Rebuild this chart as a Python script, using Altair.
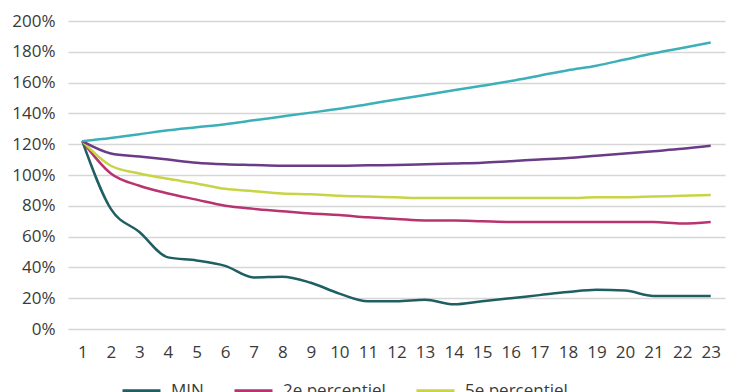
import altair as alt
import pandas as pd

# Categories (x axis)
periods = list(range(1, 24))

# Series values (fractions, 1.0 = 100%)
series_names = ["MIN", "2e percentiel", "5e percentiel", "Mediaan", "95e percentiel"]
legend_shown = ["MIN", "2e percentiel", "5e percentiel"]
min_vals = [1.22, 0.78, 0.63, 0.465, 0.445, 0.41, 0.335, 0.34, 0.30, 0.23, 0.18, 0.18,
            0.19, 0.16, 0.18, 0.20, 0.22, 0.24, 0.255, 0.25, 0.215, 0.215, 0.215]
p2_vals = [1.22, 1.01, 0.93, 0.88, 0.84, 0.80, 0.78, 0.765, 0.75, 0.74, 0.725, 0.715,
           0.705, 0.705, 0.70, 0.695, 0.695, 0.695, 0.695, 0.695, 0.695, 0.685, 0.695]
p5_vals = [1.22, 1.06, 1.01, 0.975, 0.945, 0.91, 0.895, 0.88, 0.875, 0.865, 0.86, 0.855,
           0.85, 0.85, 0.85, 0.85, 0.85, 0.85, 0.855, 0.855, 0.86, 0.865, 0.87]
med_vals = [1.22, 1.14, 1.12, 1.10, 1.08, 1.07, 1.065, 1.06, 1.06, 1.06, 1.063, 1.065,
            1.07, 1.075, 1.08, 1.09, 1.10, 1.11, 1.125, 1.14, 1.155, 1.17, 1.19]
max_vals = [1.22, 1.24, 1.265, 1.29, 1.31, 1.33, 1.355, 1.38, 1.405, 1.43, 1.46, 1.49,
            1.52, 1.55, 1.58, 1.61, 1.645, 1.68, 1.71, 1.75, 1.79, 1.825, 1.86]
series_colors = ["#1f5e63", "#b8336f", "#c8d444", "#6a3b87", "#3cb0b8"]
y_ticks = [0, 0.2, 0.4, 0.6, 0.8, 1.0, 1.2, 1.4, 1.6, 1.8, 2.0]

all_vals = [min_vals, p2_vals, p5_vals, med_vals, max_vals]
rows = []
for name, vals in zip(series_names, all_vals):
    for p, v in zip(periods, vals):
        rows.append({"periode": p, "waarde": v, "reeks": name})
df = pd.DataFrame(rows)

FONT = "Open Sans"
TXT = "#3a3a3a"

chart = alt.Chart(df).mark_line(strokeWidth=2.5, interpolate="monotone").encode(
    x=alt.X("periode:O", title=None,
            scale=alt.Scale(type="point", padding=0.5),
            axis=alt.Axis(labelAngle=0, domain=False, ticks=False, grid=False,
                          labelPadding=15, labelFontSize=17, labelFont=FONT,
                          labelColor=TXT)),
    y=alt.Y("waarde:Q", title=None,
            scale=alt.Scale(domain=[0, 2], nice=False),
            axis=alt.Axis(format=".0%", values=y_ticks,
                          domain=False, ticks=False, labelPadding=13, labelFontSize=17,
                          labelFont=FONT, labelColor=TXT,
                          gridColor="#d6d6d6", gridWidth=1.5)),
    color=alt.Color("reeks:N", title=None,
                    scale=alt.Scale(domain=series_names, range=series_colors),
                    sort=series_names,
                    legend=alt.Legend(orient="none", legendX=53, legendY=349,
                                      direction="horizontal", values=legend_shown,
                                      symbolType="stroke",
                                      symbolSize=1444, symbolStrokeWidth=3,
                                      labelOffset=9, columnPadding=24,
                                      labelFontSize=17, labelFont=FONT,
                                      labelColor=TXT)),
).properties(
    width=657, height=308,
    autosize=alt.AutoSizeParams(type="none"),
    padding={"left": 60, "top": 13, "right": 5, "bottom": 63},
).configure_view(stroke=None)

chart.save("out.html", embed_options={"renderer": "svg", "actions": False})
